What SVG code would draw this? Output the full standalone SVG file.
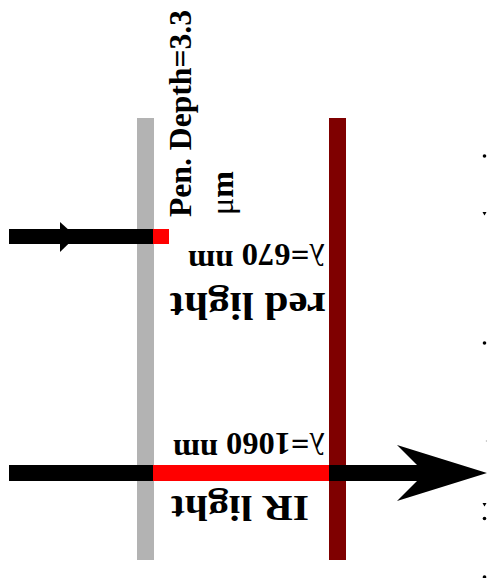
<svg xmlns="http://www.w3.org/2000/svg" width="487" height="578" viewBox="0 0 487 578">
  <style>
    .lbl { font-family: "Liberation Serif", "Times New Roman", serif; font-weight: bold; fill: #000; }
    .sym { font-weight: normal; }
    .beam { fill: #000; }
    .absorb { fill: #ff0000; }
    .mark { fill: #000; }
  </style>
  <rect width="487" height="578" fill="#ffffff"/>

  <!-- front surface layer -->
  <g id="surface">
    <rect x="137" y="118" width="17" height="442" fill="#b3b3b3"/>
  </g>

  <!-- back layer -->
  <g id="backlayer">
    <rect x="329" y="118" width="17" height="442" fill="#7f0000"/>
  </g>

  <!-- incoming beams -->
  <g id="connectors">
    <!-- red light: stops in the surface -->
    <rect class="beam" x="9" y="229" width="144" height="15"/>
    <polygon class="beam" points="60,222 76,236.5 60,252"/>
    <!-- IR light: passes through -->
    <rect class="beam" x="9" y="465" width="144" height="16"/>
    <polygon class="beam" points="329,465 417,465 397,445 487,473 397,501 417,481 329,481"/>
  </g>

  <!-- absorbed portions -->
  <g id="absorption-red">
    <rect class="absorb" x="153" y="229" width="16" height="15"/>
  </g>
  <g id="absorption-ir">
    <rect class="absorb" x="153" y="465" width="176" height="16"/>
  </g>

  <!-- penetration depth label -->
  <g id="label-depth">
    <text class="lbl" font-size="32" transform="translate(191,217) rotate(-90)" textLength="207" lengthAdjust="spacingAndGlyphs">Pen. Depth=3.3</text>
    <text class="lbl" font-size="32" transform="translate(233,215) rotate(-90)"><tspan class="sym">μ</tspan>m</text>
  </g>

  <!-- red light labels -->
  <g id="label-red">
    <text class="lbl" font-size="37" transform="translate(326,292.5) rotate(180)" textLength="156" lengthAdjust="spacingAndGlyphs">red light</text>
    <text class="lbl" font-size="32" transform="translate(325,244) rotate(180)" textLength="137" lengthAdjust="spacingAndGlyphs"><tspan class="sym">λ</tspan>=670 <tspan dy="-7">nm</tspan></text>
  </g>

  <!-- IR light labels -->
  <g id="label-ir">
    <text class="lbl" font-size="32" transform="translate(325,433) rotate(180)" textLength="152" lengthAdjust="spacingAndGlyphs"><tspan class="sym">λ</tspan>=1060 <tspan dy="-7">nm</tspan></text>
    <text class="lbl" font-size="35" transform="translate(309,495.5) rotate(180)" textLength="138" lengthAdjust="spacingAndGlyphs">IR light</text>
  </g>

  <!-- marks along the right edge -->
  <g id="edge-marks">
    <circle class="mark" cx="484.5" cy="156" r="1.8"/>
    <polygon class="mark" points="482.5,212 486.5,212 484.5,215.5"/>
    <circle class="mark" cx="484.5" cy="343" r="1.8"/>
    <circle cx="486.5" cy="441" r="0.8" fill="#bbbbbb"/>
    <polygon class="mark" points="482.5,503 486.5,503 484.5,506.5"/>
    <circle class="mark" cx="484.5" cy="518.5" r="1.8"/>
    <circle class="mark" cx="484.5" cy="577" r="1.8"/>
  </g>
</svg>
